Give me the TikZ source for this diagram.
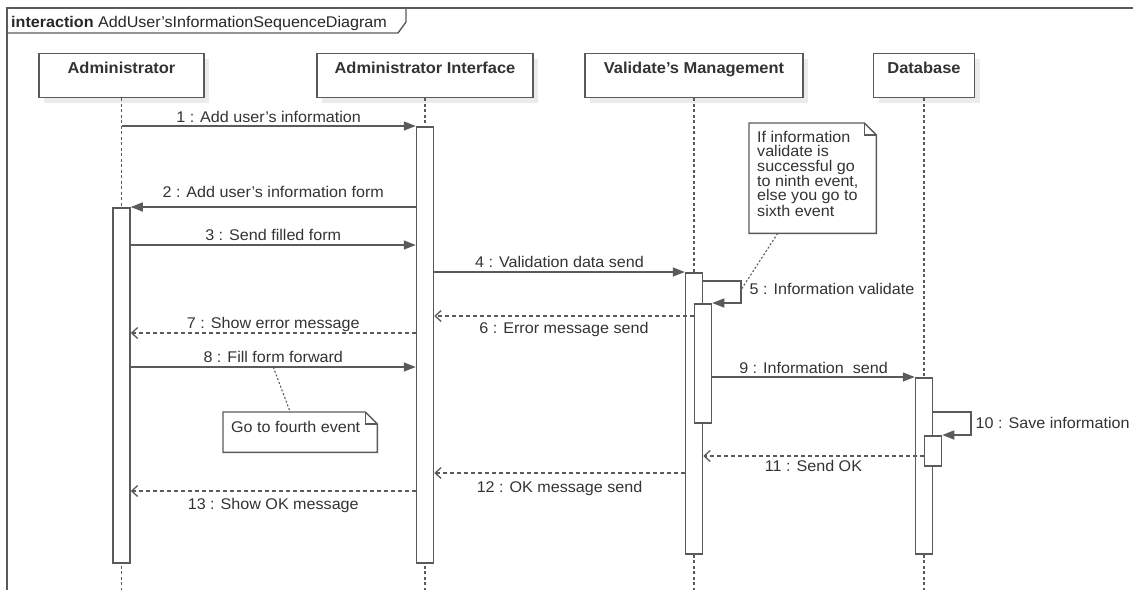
\documentclass[tikz,border=0pt]{standalone}
\usepackage{fontspec}
\setmainfont{Liberation Sans}[FakeStretch=1.04]
\usetikzlibrary{arrows.meta,shadows}

\definecolor{umlline}{HTML}{5A5A5A}
\definecolor{umltext}{HTML}{333333}

% folded corner outline of a note node
\newcommand{\notefold}[1]{%
  \draw[noteline, fill=white] (#1.north west) -- ([xshift=-12pt]#1.north east)
    -- ([yshift=-12pt]#1.north east) -- (#1.south east) -- (#1.south west) -- cycle;
  \draw[noteline] ([xshift=-12pt]#1.north east) -- ++(0,12) -- ([yshift=-12pt]#1.north east);}

\tikzset{
  txt/.style={font=\fontsize{15.5}{14.3}\selectfont, text=umltext},
  head/.style={font=\bfseries\fontsize{15.8}{14.3}\selectfont, text=umltext,
    draw=umlline, line width=1.4pt, fill=white, anchor=north,
    minimum height=44pt, inner ysep=8pt, text height=12pt, text depth=16pt,
    drop shadow={shadow xshift=5pt, shadow yshift=-5pt, fill=black, opacity=0.08}},
  bar/.style={draw=umlline, line width=1.5pt, fill=white, minimum width=17pt,
    inner sep=0pt, anchor=north},
  lifeline/.style={draw=umlline, line width=1.1pt, dash pattern=on 3pt off 2.5pt},
  sync/.style={draw=umlline, line width=1.4pt, -{Triangle[length=12pt,width=9pt]}},
  reply/.style={draw=umlline, line width=1.3pt, dash pattern=on 4pt off 3pt,
    -{Straight Barb[length=6pt,width=11pt]}},
  lbl/.style={txt, anchor=base, inner sep=0pt},
  noteline/.style={draw=umlline, line width=1.4pt},
  anchorline/.style={draw=umlline, line width=1.1pt, dash pattern=on 2pt off 2pt},
}

\begin{document}
\begin{tikzpicture}[x=1pt, y=-1pt]
  \useasboundingbox (0,0) rectangle (1133,590);

  % frame
  \draw[noteline] (7,590) -- (7,8) -- (1133,8);
  \draw[noteline] (7,33) -- (398,33) -- (406,22) -- (406,8);
  \node[txt, anchor=base west, inner sep=0pt, text=black!85] (title) at (11,27)
    {\textbf{interaction} AddUser's\-InformationSequenceDiagram};

  % lifelines
  \node[head, minimum width=165pt] (adm) at (121.5,53) {Administrator};
  \node[head, minimum width=216pt] (int) at (425,53) {Administrator Interface};
  \node[head, minimum width=218pt] (val) at (694,53) {Validate's Management};
  \node[head, minimum width=101pt] (db) at (924,53) {Database};

  \coordinate (bottom) at (0,590);
  \foreach \p in {adm,int,val,db}
    \draw[lifeline] (\p.south) -- (\p.south |- bottom);

  % activations
  \node[bar, minimum height=355pt] (admBar) at (121.5,207) {};
  \node[bar, minimum height=436pt] (intBar) at (425,126) {};
  \node[bar, minimum height=281pt] (valBar) at (694,272) {};
  \node[bar, minimum height=119pt] (valBar2) at (703,303) {};
  \node[bar, minimum height=176pt] (dbBar) at (924,377) {};
  \node[bar, minimum height=30pt] (dbBar2) at (933,435) {};

  % message levels
  \foreach \n/\y in {1/126,2/207,3/245,4/272,6/316,7/333,8/367,9/377,11/456,12/473,13/491}
    \coordinate (y\n) at (0,\y);
  \coordinate (loop5) at (741,281);
  \coordinate (loop10) at (971,412);

  % messages
  \draw[sync] (adm.south |- y1) -- node[lbl, yshift=4pt] {1 : Add user's information} (intBar.west |- y1);
  \draw[sync] (intBar.west |- y2) -- node[lbl, yshift=10pt] {2 : Add user's information form} (admBar.east |- y2);
  \draw[sync] (admBar.east |- y3) -- node[lbl, yshift=5pt] {3 : Send filled form} (intBar.west |- y3);
  \draw[sync] (intBar.east |- y4) -- node[lbl, yshift=5pt] {4 : Validation data send} (valBar.west |- y4);
  \draw[sync] (valBar.east |- loop5) -- (loop5) |-
    node[lbl, anchor=base west, pos=0.25, xshift=8pt, yshift=-2pt] {5 : Information validate}
    coordinate[pos=0.2] (n5) (valBar2.north east);
  \draw[reply] (valBar2.west |- y6) -- node[lbl, yshift=-17pt] {6 : Error message send} (intBar.east |- y6);
  \draw[reply] (intBar.west |- y7) -- node[lbl, yshift=5pt] {7 : Show error message} (admBar.east |- y7);
  \draw[sync] (admBar.east |- y8) -- node[lbl, yshift=5pt] {8 : Fill form forward}
    coordinate[midway] (m8) (intBar.west |- y8);
  \draw[sync] (valBar2.east |- y9) -- node[lbl, yshift=4pt] {9 : Information\ \ send} (dbBar.west |- y9);
  \draw[sync] (dbBar.east |- loop10) -- (loop10) |-
    node[lbl, anchor=base west, pos=0.25, xshift=4pt, yshift=-5pt] {10 : Save information}
    (dbBar2.north east);
  \draw[reply] (dbBar2.west |- y11) -- node[lbl, yshift=-15pt] {11 : Send OK} (valBar.east |- y11);
  \draw[reply] (valBar.west |- y12) -- node[lbl, yshift=-19pt] {12 : OK message send} (intBar.east |- y12);
  \draw[reply] (intBar.west |- y13) -- node[lbl, yshift=-18pt] {13 : Show OK message} (admBar.east |- y13);

  % notes
  \node[minimum width=127pt, minimum height=110pt, anchor=north west] (note1) at (749,123) {};
  \notefold{note1}
  \node[txt, anchor=north west, inner sep=0pt, align=left] (note1txt) at (757,131)
    {If information\\validate is\\successful go\\to ninth event,\\else you go to\\sixth event};
  \draw[anchorline] ([xshift=-35pt]note1.south) -- (n5);

  \node[minimum width=154pt, minimum height=40pt, anchor=north west] (note2) at (223,412) {};
  \notefold{note2}
  \node[txt, anchor=north west, inner sep=0pt] (note2txt) at (231,421) {Go to fourth event};
  \draw[anchorline] (m8) -- ([xshift=-10pt]note2.north);
\end{tikzpicture}
\end{document}
